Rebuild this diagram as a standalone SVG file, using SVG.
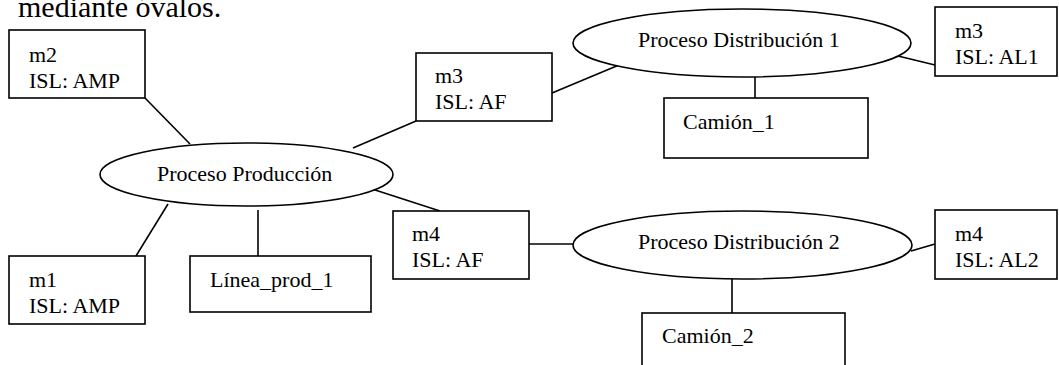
<svg xmlns="http://www.w3.org/2000/svg" width="1059" height="365" viewBox="0 0 1059 365">
  <style>
    .shape { fill: #ffffff; stroke: #000000; stroke-width: 1.6; }
    .link { stroke: #000000; stroke-width: 1.6; fill: none; }
    .lbl { font-family: 'Liberation Serif', 'DejaVu Serif', serif; font-size: 22px; fill: #000000; }
    .para { font-size: 30px; }
  </style>
  <rect width="1059" height="365" fill="#ffffff"/>

  <g font-family="Liberation Serif, DejaVu Serif, serif">
  <!-- tail of the preceding paragraph -->
  <text class="lbl para" x="18" y="17">mediante óvalos.</text>

  <!-- connectors -->
  <g id="connectors">
    <line class="link" x1="145" y1="98" x2="190" y2="144"/>
    <line class="link" x1="136" y1="256" x2="168" y2="204"/>
    <line class="link" x1="258" y1="210" x2="258" y2="256"/>
    <line class="link" x1="353" y1="148" x2="416" y2="121"/>
    <line class="link" x1="372" y1="189" x2="440" y2="211"/>
    <line class="link" x1="552" y1="93" x2="619" y2="65"/>
    <line class="link" x1="898" y1="56" x2="935" y2="65"/>
    <line class="link" x1="755" y1="77" x2="755" y2="98"/>
    <line class="link" x1="529" y1="244" x2="573" y2="244"/>
    <line class="link" x1="911" y1="251" x2="935" y2="244"/>
    <line class="link" x1="732" y1="279" x2="732" y2="313"/>
  </g>

  <!-- process ovals -->
  <g id="proceso-produccion">
    <ellipse class="shape" cx="246.5" cy="174.5" rx="146.5" ry="31.5"/>
    <text class="lbl" x="157" y="181">Proceso Producción</text>
  </g>
  <g id="proceso-distribucion-1">
    <ellipse class="shape" cx="742" cy="43" rx="169" ry="34"/>
    <text class="lbl" x="638" y="47">Proceso Distribución 1</text>
  </g>
  <g id="proceso-distribucion-2">
    <ellipse class="shape" cx="742.5" cy="245" rx="169.5" ry="34"/>
    <text class="lbl" x="638" y="249">Proceso Distribución 2</text>
  </g>

  <!-- resource boxes -->
  <g id="m2">
    <rect class="shape" x="9" y="30" width="136" height="68"/>
    <text class="lbl" x="29" y="62">m2</text>
    <text class="lbl" x="29" y="88">ISL: AMP</text>
  </g>
  <g id="m1">
    <rect class="shape" x="9" y="256" width="136" height="68"/>
    <text class="lbl" x="29" y="287">m1</text>
    <text class="lbl" x="29" y="313">ISL: AMP</text>
  </g>
  <g id="linea-prod-1">
    <rect class="shape" x="190" y="256" width="181" height="56"/>
    <text class="lbl" x="210" y="287">Línea_prod_1</text>
  </g>
  <g id="m3-af">
    <rect class="shape" x="416" y="53" width="136" height="68"/>
    <text class="lbl" x="435" y="83">m3</text>
    <text class="lbl" x="435" y="109">ISL: AF</text>
  </g>
  <g id="m4-af">
    <rect class="shape" x="393" y="211" width="136" height="68"/>
    <text class="lbl" x="412" y="241">m4</text>
    <text class="lbl" x="412" y="267">ISL: AF</text>
  </g>
  <g id="camion-1">
    <rect class="shape" x="664" y="98" width="204" height="60"/>
    <text class="lbl" x="683" y="129">Camión_1</text>
  </g>
  <g id="camion-2">
    <rect class="shape" x="642" y="313" width="203" height="70"/>
    <text class="lbl" x="662" y="343">Camión_2</text>
  </g>
  <g id="m3-al1">
    <rect class="shape" x="935" y="7" width="122" height="69"/>
    <text class="lbl" x="955" y="38">m3</text>
    <text class="lbl" x="955" y="64">ISL: AL1</text>
  </g>
  <g id="m4-al2">
    <rect class="shape" x="935" y="210" width="122" height="69"/>
    <text class="lbl" x="955" y="241">m4</text>
    <text class="lbl" x="955" y="267">ISL: AL2</text>
  </g>
  </g>
</svg>
